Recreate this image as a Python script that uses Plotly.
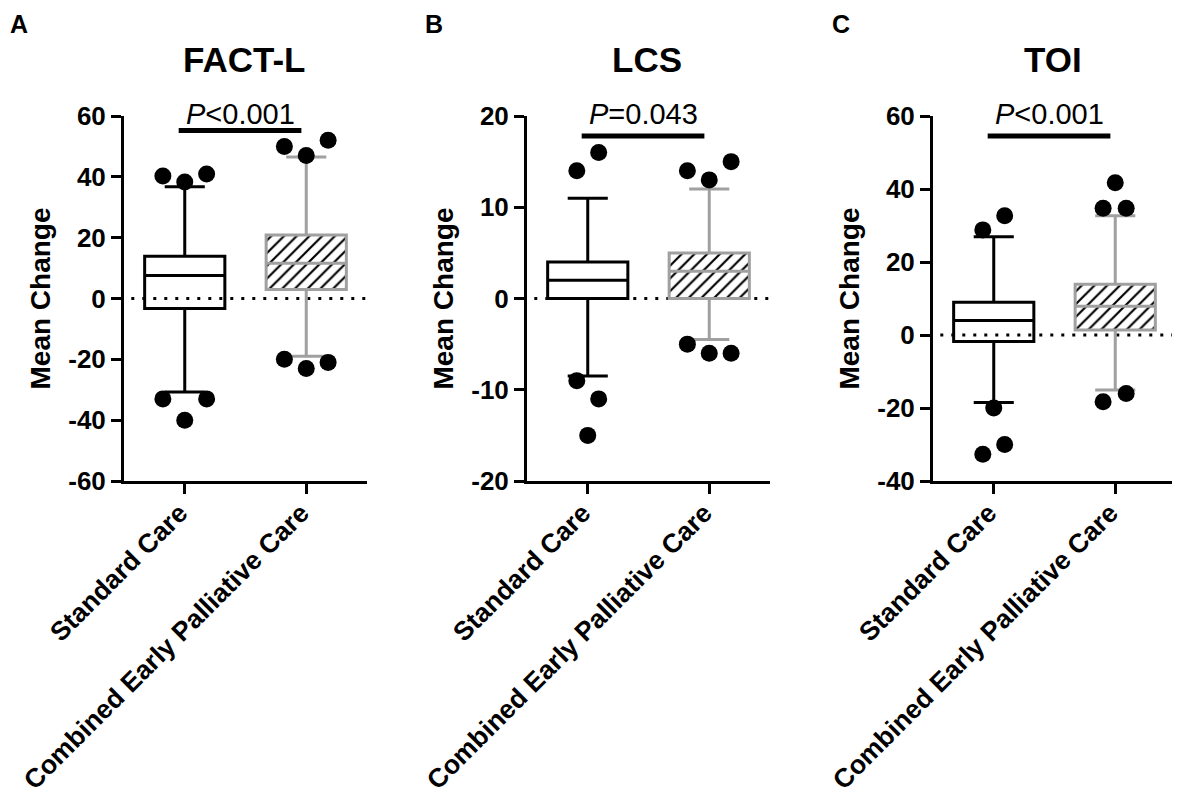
import plotly.graph_objects as go
from plotly.subplots import make_subplots

groups = ["Standard Care", "Combined Early Palliative Care"]
panel_titles = ["FACT-L", "LCS", "TOI"]
panel_letters = ["A", "B", "C"]
p_labels = ["<i>P</i>&lt;0.001", "<i>P</i>=0.043", "<i>P</i>&lt;0.001"]

# box summaries, [Standard Care, Combined Early Palliative Care]
fact_q1 = [-3.3, 3.0]
fact_median = [7.6, 11.6]
fact_q3 = [13.9, 20.9]
fact_low = [-30.7, -19.0]
fact_high = [36.7, 46.5]
fact_std_out = [40.3, 38.3, 40.9, -33, -40, -33]
fact_cepc_out = [50, 47, 52, -20, -23, -21]

lcs_q1 = [0.0, 0.0]
lcs_median = [2.0, 3.0]
lcs_q3 = [4.0, 5.0]
lcs_low = [-8.5, -4.5]
lcs_high = [11.0, 12.0]
lcs_std_out = [14, 16, -9, -11, -15]
lcs_cepc_out = [14, 13, 15, -5, -6, -6]

toi_q1 = [-1.8, 1.4]
toi_median = [4.0, 7.9]
toi_q3 = [9.0, 13.9]
toi_low = [-18.5, -15.1]
toi_high = [26.9, 32.7]
toi_std_out = [28.8, 32.7, -20, -30, -32.7]
toi_cepc_out = [41.7, 34.7, 34.7, -18.3, -16]

# horizontal spread of the outlier dots around each box centre
fact_std_dx = [-0.18, 0, 0.18, -0.18, 0, 0.18]
fact_cepc_dx = [-0.18, 0, 0.18, -0.18, 0, 0.18]
lcs_std_dx = [-0.09, 0.09, -0.09, 0.09, 0]
lcs_cepc_dx = [-0.18, 0, 0.18, -0.18, 0, 0.18]
toi_std_dx = [-0.09, 0.09, 0, 0.09, -0.09]
toi_cepc_dx = [0, -0.1, 0.09, -0.1, 0.09]

sig_y = [55.2, 17.8, 54.5]
y_ranges = [[-60, 60], [-20, 20], [-40, 60]]
y_dticks = [20, 10, 20]

panels = [
    (fact_q1, fact_median, fact_q3, fact_low, fact_high,
     fact_std_out, fact_std_dx, fact_cepc_out, fact_cepc_dx),
    (lcs_q1, lcs_median, lcs_q3, lcs_low, lcs_high,
     lcs_std_out, lcs_std_dx, lcs_cepc_out, lcs_cepc_dx),
    (toi_q1, toi_median, toi_q3, toi_low, toi_high,
     toi_std_out, toi_std_dx, toi_cepc_out, toi_cepc_dx),
]

FONT = "Liberation Sans, Arial, sans-serif"
GRAY = "#a0a0a0"
# the page body keeps its 8px default margin, so the figure is a bit smaller
PAD = 8
W, H = 1180 - PAD, 796 - PAD
BOXW = 0.66


def px_x(p):
    return (p - PAD) / W


def px_y(p):
    return 1 - (p - PAD) / H


fig = make_subplots(rows=1, cols=3)

x_px = [(124, 367), (527, 770), (933, 1176)]
y_dom = [px_y(481), px_y(116)]

for i, (q1, med, q3, lo, hi, s_out, s_dx, c_out, c_dx) in enumerate(panels):
    col = i + 1
    ## hatched fill of the second box
    fig.add_trace(go.Bar(
        x=[1], y=[q3[1] - q1[1]], base=[q1[1]], width=BOXW,
        marker=dict(color="white", line=dict(width=0),
                    pattern=dict(shape="/", fgcolor="black", bgcolor="white",
                                 size=9, solidity=0.24)),
        hoverinfo="skip"), row=1, col=col)
    ## box outlines, medians, whiskers
    for j, color in enumerate(["black", GRAY]):
        fig.add_trace(go.Box(
            x=[j], q1=[q1[j]], median=[med[j]], q3=[q3[j]],
            lowerfence=[lo[j]], upperfence=[hi[j]],
            width=BOXW, whiskerwidth=0.5, boxpoints=False,
            fillcolor="rgba(0,0,0,0)", line=dict(color=color, width=3)),
            row=1, col=col)
    ## outlier dots
    fig.add_trace(go.Scatter(
        x=[0 + d for d in s_dx], y=s_out, mode="markers",
        marker=dict(color="black", size=17)), row=1, col=col)
    fig.add_trace(go.Scatter(
        x=[1 + d for d in c_dx], y=c_out, mode="markers",
        marker=dict(color="black", size=17)), row=1, col=col)

    xa = "x" if i == 0 else "x%d" % col
    ya = "y" if i == 0 else "y%d" % col
    ## dotted zero line
    fig.add_shape(type="line", xref=xa, yref=ya, x0=-0.44, x1=1.5, y0=0, y1=0,
                  line=dict(color="black", width=3, dash="3px,8px"), layer="below")
    ## significance bar
    fig.add_shape(type="line", xref=xa, yref=ya, x0=-0.05, x1=0.96,
                  y0=sig_y[i], y1=sig_y[i], line=dict(color="black", width=5))
    fig.add_annotation(xref=xa, yref="paper", x=0.455, y=px_y(114),
                       text=p_labels[i], showarrow=False, yanchor="middle",
                       font=dict(family=FONT, size=29, color="black"))
    fig.add_annotation(xref=xa, yref="paper", x=0.49, y=px_y(60),
                       text="<b>%s</b>" % panel_titles[i], showarrow=False,
                       yanchor="middle",
                       font=dict(family=FONT, size=35, color="black"))
    ## panel letter
    fig.add_annotation(xref="paper", yref="paper",
                       x=max(px_x([0, 423, 830][i]), 0), y=1,
                       text="<b>%s</b>" % panel_letters[i], showarrow=False,
                       xanchor="left", yanchor="top",
                       font=dict(family=FONT, size=25, color="black"))

    lo_r, hi_r = y_ranges[i]
    ticks = list(range(lo_r, hi_r + 1, y_dticks[i]))
    fig.update_xaxes(
        domain=[px_x(x_px[i][0]), px_x(x_px[i][1])], range=[-0.5, 1.5],
        tickmode="array", tickvals=[0, 1], ticktext=groups, tickangle=-45,
        tickfont=dict(family=FONT, size=26.5, color="black", weight="bold"),
        ticklabelstandoff=-7, ticklabelshift=-5,
        showline=True, linewidth=3, linecolor="black",
        ticks="outside", ticklen=10, tickwidth=3, tickcolor="black",
        showgrid=False, zeroline=False, automargin=False, row=1, col=col)
    fig.update_yaxes(
        domain=y_dom, range=y_ranges[i],
        tickmode="array", tickvals=ticks, ticktext=[str(t) for t in ticks],
        tickfont=dict(family=FONT, size=26, color="black", weight="bold"),
        showline=True, linewidth=3, linecolor="black",
        ticks="outside", ticklen=10, tickwidth=3, tickcolor="black",
        showgrid=False, zeroline=False, automargin=False,
        title=dict(text="<b>Mean Change</b>", standoff=10,
                   font=dict(family=FONT, size=28, color="black")),
        row=1, col=col)

fig.update_layout(
    width=W, height=H, template="none", showlegend=False,
    paper_bgcolor="white", plot_bgcolor="rgba(0,0,0,0)",
    margin=dict(l=0, r=0, t=0, b=0),
    font=dict(family=FONT, color="black"),
)

fig.write_html("out.html")
